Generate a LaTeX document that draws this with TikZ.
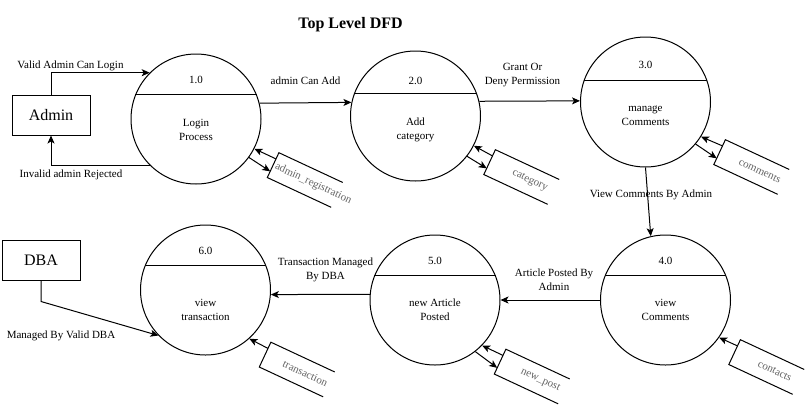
\documentclass[tikz,border=0pt]{standalone}
\usepackage{fontspec}
\setmainfont{Liberation Serif}
\usepackage{tikz}
\usetikzlibrary{arrows.meta, calc}
\definecolor{storetxt}{RGB}{100,100,100}

\tikzset{
  proc/.style={circle, draw, line width=1pt, minimum size=130pt, inner sep=0pt},
  ext/.style={rectangle, draw, line width=1pt, minimum width=78pt, minimum height=40pt,
              font=\fontsize{16}{19}\selectfont},
  store/.style={rectangle, minimum width=70pt, minimum height=27pt, inner sep=0pt, rotate=-25},
  storelbl/.style={font=\fontsize{11}{14}\selectfont, text=storetxt, rotate=-25, inner sep=0pt},
  lbl/.style={font=\fontsize{11}{14}\selectfont, align=center, inner sep=0pt},
  flow/.style={line width=1pt, -{Stealth[length=8pt, width=7pt, inset=2pt]}}
}

\begin{document}
\begin{tikzpicture}[x=1pt, y=-1pt]
    \useasboundingbox (0,0) rectangle (812,408);

    % --- Titulo ---
    \node[font=\fontsize{16}{19}\selectfont\bfseries] (title) at (350.5,25) {Top Level DFD};

    % --- Entidades externas ---
    \node[ext] (admin) at (51,115) {Admin};
    \node[ext] (dba) at (41,260) {DBA};

    % --- Processos ---
    \node[proc] (p1) at (196,119) {};
    \node[proc] (p2) at (415.5,116) {};
    \node[proc] (p3) at (645.5,102) {};
    \node[proc] (p4) at (665.5,300) {};
    \node[proc] (p5) at (435,300) {};
    \node[proc] (p6) at (205.5,290) {};
    \foreach \p/\l/\r in {p1/158/22, p2/160/20, p3/161/19, p4/158/22, p5/158/22, p6/158/22} {
      \draw[line width=1pt] (\p.\l) -- (\p.\r);
    }
    \node[lbl] (p1num) at (196,80) {1.0};
    \node[lbl] (p1txt) at (196,130) {Login\\Process};
    \node[lbl] (p2num) at (415.5,81) {2.0};
    \node[lbl] (p2txt) at (415.5,130) {Add\\category};
    \node[lbl] (p3num) at (645.5,65) {3.0};
    \node[lbl] (p3txt) at (645.5,115.5) {manage\\Comments};
    \node[lbl] (p4num) at (665.5,261) {4.0};
    \node[lbl] (p4txt) at (665.5,310) {view\\Comments};
    \node[lbl] (p5num) at (435,261) {5.0};
    \node[lbl] (p5txt) at (435,310) {new Article\\Posted};
    \node[lbl] (p6num) at (205.5,251) {6.0};
    \node[lbl] (p6txt) at (205.5,310) {view\\transaction};

    % --- Depositos de dados ---
    \node[store] (s1) at (305,180) {};
    \node[store] (s2) at (521.5,177) {};
    \node[store] (s3) at (751.5,167) {};
    \node[store] (s4) at (766.5,367) {};
    \node[store] (s5) at (532,376.5) {};
    \node[store] (s6) at (297,369.5) {};
    \foreach \s in {s1, s2, s3, s4, s5, s6} {
      \draw[line width=1pt] (\s.north east) -- (\s.north west) -- (\s.south west) -- (\s.south east);
    }
    \node[storelbl] (s1txt) at ($(s1.west)!0.63!(s1.east)$) {admin\_registration};
    \node[storelbl] (s2txt) at ($(s2.west)!0.63!(s2.east)$) {category};
    \node[storelbl] (s3txt) at ($(s3.west)!0.63!(s3.east)$) {comments};
    \node[storelbl] (s4txt) at ($(s4.west)!0.63!(s4.east)$) {contacts};
    \node[storelbl] (s5txt) at ($(s5.west)!0.63!(s5.east)$) {new\_post};
    \node[storelbl] (s6txt) at ($(s6.west)!0.63!(s6.east)$) {transaction};

    % --- Fluxos entre processos e depositos ---
    \draw[flow] ($(s1.north west)!0.25!(s1.south west)$) -- (p1.-27);
    \draw[flow] (p1.-36) -- ($(s1.north west)!0.75!(s1.south west)$);
    \draw[flow] ($(s2.north west)!0.25!(s2.south west)$) -- (p2.-27);
    \draw[flow] (p2.-38) -- ($(s2.north west)!0.75!(s2.south west)$);
    \draw[flow] ($(s3.north west)!0.25!(s3.south west)$) -- (p3.-32);
    \draw[flow] (p3.-40) -- ($(s3.north west)!0.75!(s3.south west)$);
    \draw[flow] ($(s4.north west)!0.25!(s4.south west)$) -- (p4.-35);
    \draw[flow] ($(s5.north west)!0.25!(s5.south west)$) -- (p5.-44);
    \draw[flow] (p5.-52) -- ($(s5.north west)!0.75!(s5.south west)$);
    \draw[flow] ($(s6.north west)!0.25!(s6.south west)$) -- (p6.-48);

    % --- Fluxos principais ---
    \draw[flow] (admin.north) |- (p1.135);
    \draw[flow] (p1.225) -| (admin.south);
    \draw[flow] (p1.14) -- (p2.168);
    \draw[flow] (p2.13) -- (p3.179);
    \draw[flow] (p3.south) -- (p4.103);
    \draw[flow] (p4.west) -- (p5.east);
    \draw[flow] (p5.175) -- (p6.-4);
    \draw[flow] (dba.south) -- ++(0,21) -- (p6.224);

    % --- Rotulos dos fluxos ---
    \node[lbl] (lvalid) at (70.5,66) {Valid Admin Can Login};
    \node[lbl] (linvalid) at (71,175) {Invalid admin Rejected};
    \node[lbl] (ladd) at (305.5,81) {admin Can Add};
    \node[lbl] (lgrant) at (522.5,75) {Grant Or\\Deny Permission};
    \node[lbl] (lview) at (651,195) {View Comments By Admin};
    \node[lbl] (lpost) at (554,280) {Article Posted By\\Admin};
    \node[lbl] (ltrans) at (325.5,270) {Transaction Managed\\By DBA};
    \node[lbl] (ldba) at (61,336) {Managed By Valid DBA};
\end{tikzpicture}
\end{document}
